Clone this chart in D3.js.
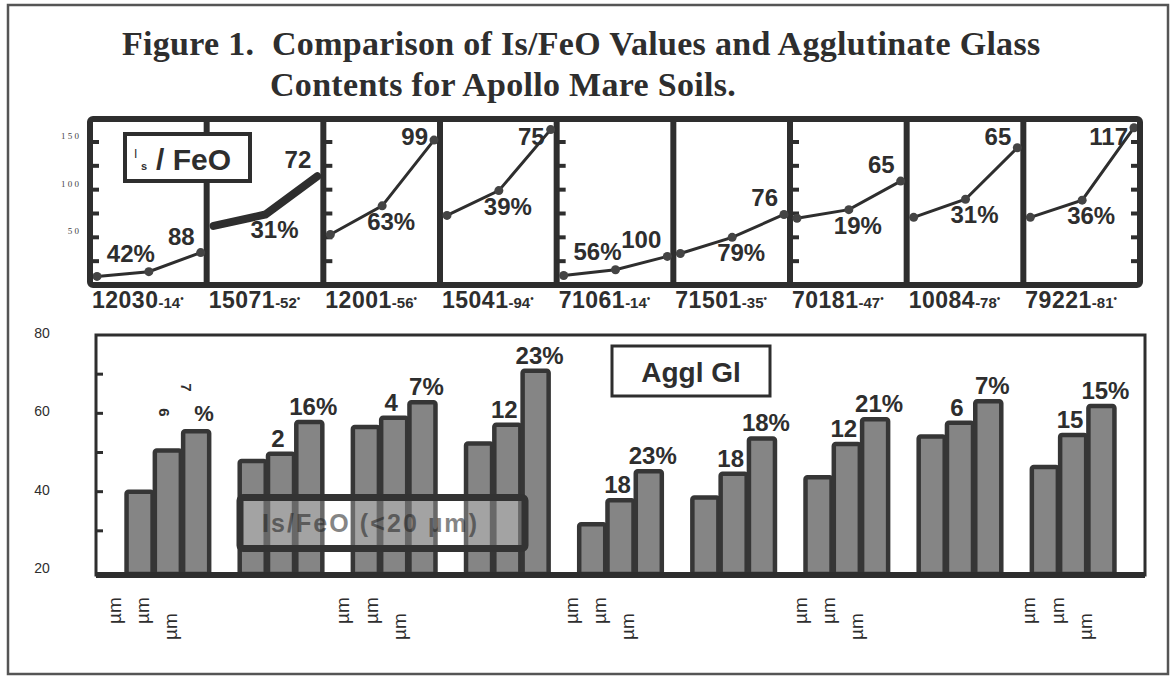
<!DOCTYPE html>
<html>
<head>
<meta charset="utf-8">
<script src="https://cdn.jsdelivr.net/npm/d3@7"></script>
<style>
  body { margin: 0; background: #fff; }
  svg { font-family: "Liberation Sans", Arial, sans-serif; }
</style>
</head>
<body>
<svg id="chart" width="1175" height="678"></svg>
<script>
//Datos
const samples = ['12030', '15071', '12001', '15041', '71061', '71501', '70181', '10084', '79221'];
const sampleSuffix = ['-14', '-52', '-56', '-94', '-14', '-35', '-47', '-78', '-81'];
const fractions = ['fine', 'medium', 'coarse'];

//Is/FeO por fracción
const isFeO = [
    [9, 14, 34], [62, 74, 114], [53, 83, 152], [73, 99, 163], [10, 16, 30],
    [33, 50, 74], [70, 79, 109], [71, 90, 144], [71, 89, 165]
];
const isFeOEndLabels = ['88', '72', '99', '75', '100', '76', '65', '65', '117'];
const isFeOPctLabels = ['42%', '31%', '63%', '39%', '56%', '79%', '19%', '31%', '36%'];
const isFeOTicks = [25, 50, 75, 100, 125, 150];
const isFeOTickLabels = ['1 5 0', '1 0 0', '5 0'];
const isFeOTickValues = [150, 100, 50];

//Vidrio aglutinado (%)
const agglGlass = [
    [40, 50.5, 55.4], [47.8, 49.7, 57.8], [56.5, 58.9, 62.8], [52.3, 57.1, 70.9], [31.7, 37.8, 45.2],
    [38.5, 44.6, 53.6], [43.7, 52.2, 58.5], [54.1, 57.6, 63.1], [46.3, 54.5, 61.9]
];
const agglMidLabels = ['6', '2', '4', '12', '18', '18', '12', '6', '15'];
const agglTopLabels = ['7%', '16%', '7%', '23%', '23%', '18%', '21%', '7%', '15%'];
const agglTicks = [30, 40, 50, 60, 70];
const agglTickLabels = [20, 40, 60, 80];
const umGroups = ['12030', '12001', '71061', '70181', '79221'];

//Estilos
const ink = '#2e2e2e';
const serif = '"Liberation Serif", "Times New Roman", serif';
const thickPanel = '15071';
const rotatedGroup = '12030';
const tickPanels = ['12030', '12001', '71061', '70181'];

let svg = d3.select('#chart');

//Marco exterior
svg.append('rect')
    .attr('x', 8).attr('y', 5)
    .attr('width', 1160).attr('height', 669)
    .attr('fill', 'none').attr('stroke', '#555').attr('stroke-width', 2.5);

//Título
let title = svg.append('g')
    .style('font-family', serif)
    .style('letter-spacing', '0.3px')
    .attr('font-weight', 'bold')
    .attr('font-size', 34)
    .attr('fill', ink);

title.append('text').attr('x', 122).attr('y', 55).style('white-space', 'pre')
    .text('Figure 1.  Comparison of Is/FeO Values and Agglutinate Glass');
title.append('text').attr('x', 270).attr('y', 96)
    .text('Contents for Apollo Mare Soils.');

///// PANEL SUPERIOR: Is/FeO /////
let xPanel = d3.scaleBand().domain(samples).range([90, 1140]);
let yIs = d3.scaleLinear().domain([0, 150]).range([285, 142]);
let xStep = d3.scalePoint().domain(fractions).range([7, xPanel.bandwidth() - 6]);

let topChart = svg.append('g');

//Etiquetas del eje
topChart.selectAll('.is-label')
    .data(isFeOTickValues)
    .join('text')
    .attr('class', 'is-label')
    .attr('x', 79)
    .attr('y', d => yIs(d) - 3)
    .attr('text-anchor', 'end')
    .style('font-family', serif)
    .attr('font-size', 9)
    .attr('fill', '#444')
    .text((d, i) => isFeOTickLabels[i]);

//Separadores
topChart.selectAll('.divider')
    .data(samples.slice(1))
    .join('line')
    .attr('class', 'divider')
    .attr('x1', d => xPanel(d)).attr('x2', d => xPanel(d))
    .attr('y1', 119).attr('y2', 285)
    .attr('stroke', ink).attr('stroke-width', 6);

//Marcas del eje
tickPanels.forEach(function (s) {
    topChart.selectAll(null)
        .data(isFeOTicks)
        .join('line')
        .attr('x1', xPanel(s)).attr('x2', xPanel(s) + 9)
        .attr('y1', d => yIs(d)).attr('y2', d => yIs(d))
        .attr('stroke', ink).attr('stroke-width', 4);
});
topChart.selectAll(null)
    .data(isFeOTicks)
    .join('line')
    .attr('x1', 1140).attr('x2', 1131)
    .attr('y1', d => yIs(d)).attr('y2', d => yIs(d))
    .attr('stroke', ink).attr('stroke-width', 4);

let line = d3.line()
    .x((d, j) => xStep(fractions[j]))
    .y(d => yIs(d));

let panels = topChart.selectAll('.panel')
    .data(samples)
    .join('g')
    .attr('class', 'panel')
    .attr('transform', d => 'translate(' + xPanel(d) + ',0)');

panels.append('path')
    .attr('d', (d, i) => line(isFeO[i]))
    .attr('fill', 'none')
    .attr('stroke', ink)
    .attr('stroke-linecap', 'round')
    .attr('stroke-width', d => d == thickPanel ? 8 : 3);

panels.each(function (s, i) {
    let g = d3.select(this);
    if (s != thickPanel) {
        g.selectAll('circle')
            .data(isFeO[i])
            .join('circle')
            .attr('cx', (d, j) => xStep(fractions[j]))
            .attr('cy', d => yIs(d))
            .attr('r', 4.5)
            .attr('fill', '#444');
    }

    let endX = xStep(fractions[2]), endY = yIs(isFeO[i][2]);
    g.append('text')
        .attr('x', endX - 6)
        .attr('y', Math.max(endY - 8, 145))
        .attr('text-anchor', 'end')
        .attr('font-weight', 'bold')
        .attr('font-size', 24)
        .attr('fill', ink)
        .text(isFeOEndLabels[i]);

    let midX = xStep(fractions[1]), midY = yIs(isFeO[i][1]);
    let below = midY < 250;
    g.append('text')
        .attr('x', below ? midX + 9 : midX - 18)
        .attr('y', below ? midY + 24 : midY - 10)
        .attr('text-anchor', 'middle')
        .attr('font-weight', 'bold')
        .attr('font-size', 24)
        .attr('fill', ink)
        .text(isFeOPctLabels[i]);
});

//Marco del panel
topChart.append('rect')
    .attr('x', 90).attr('y', 119)
    .attr('width', 1050).attr('height', 166)
    .attr('fill', 'none').attr('stroke', ink).attr('stroke-width', 6).attr('rx', 3);

//Caja Is/FeO
let isBox = topChart.append('g').attr('fill', ink);
isBox.append('rect')
    .attr('x', 125).attr('y', 134).attr('width', 125).attr('height', 47)
    .attr('fill', '#fff').attr('stroke', ink).attr('stroke-width', 4);
isBox.append('text').attr('x', 134).attr('y', 158).attr('font-size', 12).text('I');
isBox.append('text').attr('x', 141).attr('y', 170).attr('font-size', 11).attr('font-weight', 'bold').text('s');
isBox.append('text').attr('x', 156).attr('y', 170).attr('font-size', 30).attr('font-weight', 'bold').text('/ FeO');

//Fila de muestras
let sampleRow = svg.selectAll('.sample')
    .data(samples)
    .join('text')
    .attr('class', 'sample')
    .attr('x', d => xPanel(d) + 2)
    .attr('y', 308)
    .attr('fill', ink);
sampleRow.append('tspan').attr('font-size', 23).attr('font-weight', 'bold').style('letter-spacing', '0.5px').text(d => d);
sampleRow.append('tspan').attr('font-size', 15).attr('font-weight', 'bold').text((d, i) => sampleSuffix[i]);
sampleRow.append('tspan').attr('font-size', 10).attr('dy', -6).text('•');

///// PANEL INFERIOR: vidrio aglutinado /////
let yAg = d3.scaleLinear().domain([20, 80]).range([570, 335]);
let xGroup = d3.scaleBand().domain(samples).range([96, 1145]).paddingInner(0.27).paddingOuter(0.27);
let xBar = d3.scaleBand().domain(fractions).range([0, xGroup.bandwidth()]).paddingInner(0.08);
let xUm = d3.scaleBand().domain(samples).range([80, 1140]).paddingInner(0.27).paddingOuter(0.27);

let botChart = svg.append('g');

//Etiquetas eje Y
botChart.selectAll('.ag-label')
    .data(agglTickLabels)
    .join('text')
    .attr('class', 'ag-label')
    .attr('x', 42)
    .attr('y', d => yAg(d) - 2)
    .attr('dy', '0.35em')
    .attr('text-anchor', 'middle')
    .attr('font-size', 14)
    .attr('fill', ink)
    .text(d => d);

//Leyenda (por detrás de las barras)
let legX = 240, legW = 285, legY = yAg(38.5), legH = yAg(25.5) - yAg(38.5);
botChart.append('rect')
    .attr('x', legX).attr('y', legY).attr('width', legW).attr('height', legH)
    .attr('fill', '#fff');

//Barras
let groups = botChart.selectAll('.group')
    .data(samples)
    .join('g')
    .attr('class', 'group')
    .attr('transform', d => 'translate(' + xGroup(d) + ',0)');

groups.each(function (s, i) {
    let g = d3.select(this);
    g.selectAll('rect')
        .data(agglGlass[i])
        .join('rect')
        .attr('x', (d, j) => xBar(fractions[j]))
        .attr('y', d => yAg(d))
        .attr('width', xBar.bandwidth())
        .attr('height', d => yAg(20) - yAg(d) + 4)
        .attr('rx', 2)
        .attr('fill', '#858585')
        .attr('stroke', '#363636')
        .attr('stroke-width', 4.5);

    let cb = xBar(fractions[1]) + xBar.bandwidth() / 2, tb = yAg(agglGlass[i][1]);
    let cc = xBar(fractions[2]) + xBar.bandwidth() / 2, tc = yAg(agglGlass[i][2]);

    if (s == rotatedGroup) {
        g.append('text')
            .attr('transform', 'translate(' + (cb - 4) + ',' + (tb - 38) + ') rotate(90)')
            .attr('text-anchor', 'middle').attr('dy', '0.35em')
            .attr('font-size', 15).attr('font-weight', 'bold').attr('fill', ink)
            .text(agglMidLabels[i]);
        g.append('text')
            .attr('transform', 'translate(' + (cc - 10) + ',' + (tc - 44) + ') rotate(90)')
            .attr('text-anchor', 'middle').attr('dy', '0.35em')
            .attr('font-size', 15).attr('font-weight', 'bold').attr('fill', ink)
            .text(agglTopLabels[i].replace('%', ''));
        g.append('text')
            .attr('x', cc + 8).attr('y', tc - 10)
            .attr('text-anchor', 'middle')
            .attr('font-size', 22).attr('font-weight', 'bold').attr('fill', ink)
            .text('%');
    } else {
        g.append('text')
            .attr('x', cb - 3).attr('y', tb - 7)
            .attr('text-anchor', 'middle')
            .attr('font-size', 24).attr('font-weight', 'bold').attr('fill', ink)
            .text(agglMidLabels[i]);
        g.append('text')
            .attr('x', cc + 4).attr('y', tc - 7)
            .attr('text-anchor', 'middle')
            .attr('font-size', 24).attr('font-weight', 'bold').attr('fill', ink)
            .text(agglTopLabels[i]);
    }
});

//Leyenda: velo claro sobre las barras, texto tenue y borde por delante
botChart.append('rect')
    .attr('x', legX).attr('y', legY).attr('width', legW).attr('height', legH)
    .attr('fill', '#fff').attr('opacity', 0.25);
botChart.append('text')
    .attr('x', legX + 22).attr('y', legY + legH / 2 + 9)
    .attr('font-size', 25).attr('font-weight', 'bold').attr('fill', '#222')
    .attr('opacity', 0.55)
    .attr('textLength', 215).attr('lengthAdjust', 'spacing')
    .text('Is/FeO (<20 µm)');
botChart.append('rect')
    .attr('x', legX).attr('y', legY).attr('width', legW).attr('height', legH)
    .attr('fill', 'none').attr('stroke', '#333').attr('stroke-width', 7).attr('rx', 3);

//Marco del panel inferior
botChart.append('rect')
    .attr('x', 96).attr('y', 335).attr('width', 1049).attr('height', 240)
    .attr('fill', 'none').attr('stroke', ink).attr('stroke-width', 3);
botChart.append('line')
    .attr('x1', 96).attr('x2', 1145).attr('y1', 575).attr('y2', 575)
    .attr('stroke', ink).attr('stroke-width', 6);

botChart.selectAll('.ag-tick')
    .data(agglTicks)
    .join('line')
    .attr('class', 'ag-tick')
    .attr('x1', 96).attr('x2', 103)
    .attr('y1', d => yAg(d)).attr('y2', d => yAg(d))
    .attr('stroke', ink).attr('stroke-width', 3);

//Caja Aggl Gl
botChart.append('rect')
    .attr('x', 612).attr('y', 346).attr('width', 158).attr('height', 50)
    .attr('fill', '#fff').attr('stroke', ink).attr('stroke-width', 3);
botChart.append('text')
    .attr('x', 691).attr('y', 382)
    .attr('text-anchor', 'middle')
    .attr('font-size', 28).attr('font-weight', 'bold').attr('fill', ink)
    .text('Aggl Gl');

//Etiquetas µm giradas
umGroups.forEach(function (s) {
    botChart.selectAll(null)
        .data(fractions)
        .join('text')
        .attr('transform', d => 'translate(' + (xUm(s) + xBar(d) + 3) + ',' + (d == 'coarse' ? 640 : 624) + ') rotate(-90)')
        .attr('dy', '0.35em')
        .attr('font-size', 19)
        .attr('fill', ink)
        .text('µm');
});
</script>
</body>
</html>
